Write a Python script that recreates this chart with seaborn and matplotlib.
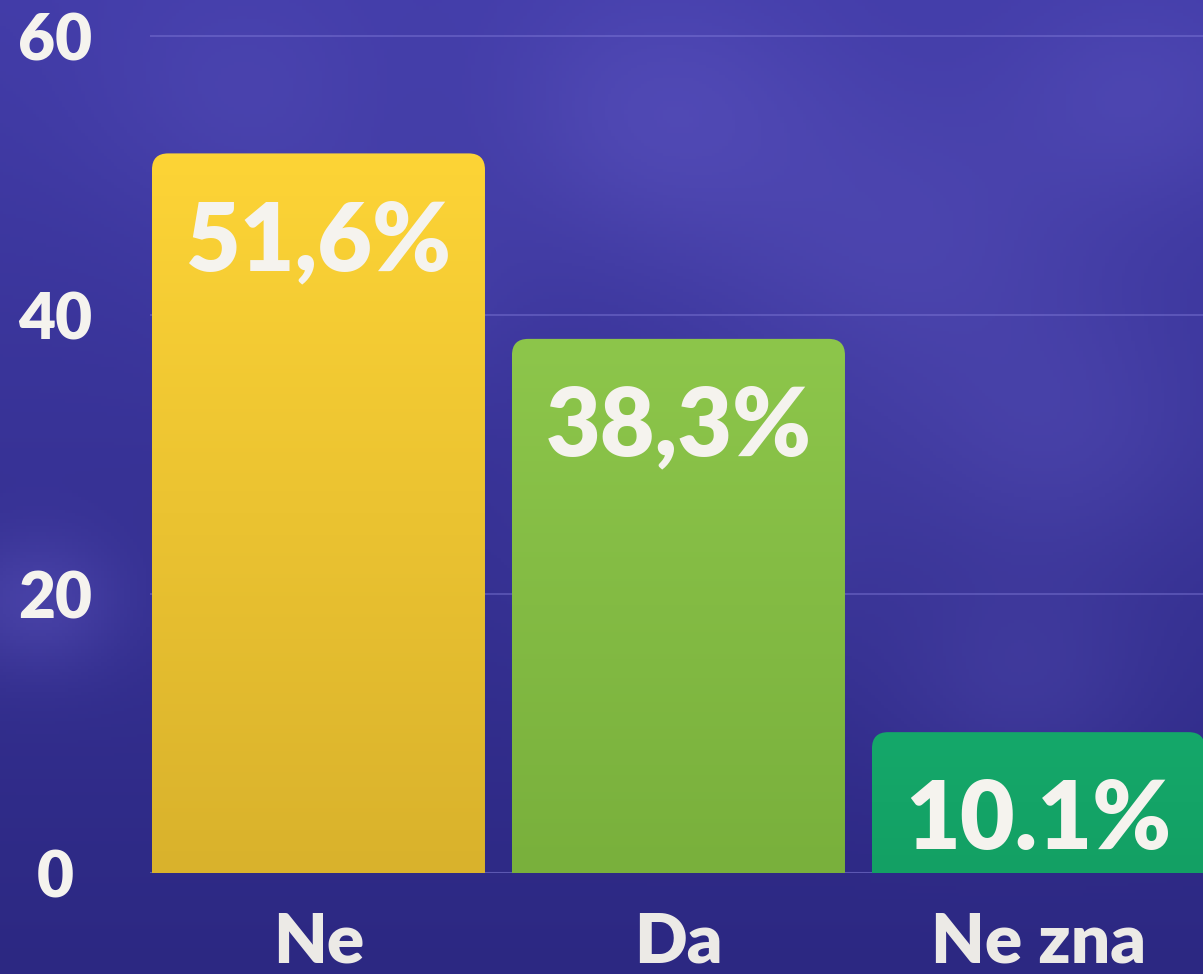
import numpy as np
import pandas as pd
import matplotlib
matplotlib.use("Agg")
import matplotlib.pyplot as plt
import seaborn as sns
from matplotlib.patches import FancyBboxPatch

categories = ["Ne", "Da", "Ne zna"]
values = [51.6, 38.3, 10.1]
value_labels = ["51,6%", "38,3%", "10.1%"]
bar_colors = ["#FDD436", "#8DC64B", "#15A86A"]
bar_bottom_colors = ["#D9B22C", "#79B03C", "#13A064"]
yticks = [0, 20, 40, 60]

sns.set_theme(style="white")
plt.rcParams['font.family'] = ['Lato', 'DejaVu Sans']

W, H = 1203, 974
fig = plt.figure(figsize=(W / 100, H / 100), dpi=100)

# background
bg = fig.add_axes([0, 0, 1, 1], zorder=0)
yy, xx = np.mgrid[0:1:300j, 0:1:370j]
c_top = np.array([66, 60, 168]) / 255
c_bot = np.array([44, 40, 130]) / 255
t = yy[..., None]
base = c_top * (1 - t) + c_bot * t
blobs = [(0.55, 0.12, 0.10, 0.30), (0.75, 0.25, 0.12, 0.25), (0.30, 0.30, 0.08, 0.22),
         (0.88, 0.45, 0.10, 0.22), (0.03, 0.62, 0.05, 0.30), (0.60, 0.55, 0.10, 0.15),
         (0.95, 0.10, 0.08, 0.22), (0.20, 0.10, 0.09, 0.18), (0.85, 0.70, 0.08, 0.18)]
light = np.array([115, 105, 215]) / 255
for bx, by, r, a in blobs:
    g = np.exp(-(((xx - bx) ** 2) + ((yy - by) ** 2)) / (2 * r ** 2))[..., None]
    base = base * (1 - a * g) + light * a * g
bg.imshow(base, extent=[0, 1, 0, 1], aspect="auto", origin="upper")
bg.set_axis_off()

ax = fig.add_axes([150 / W, (H - 873) / H, 1 - 150 / W, 873 / H], zorder=1)
ax.patch.set_alpha(0)
df = pd.DataFrame({"cat": categories, "val": values})
sns.barplot(data=df, x="cat", y="val", hue="cat", palette=bar_colors, width=0.925,
            legend=False, ax=ax, saturation=1)

ax.set_xlim(-0.468, 2.457)
ax.set_ylim(0, 62.6)

# grid lines
for yv in yticks[1:]:
    ax.axhline(yv, color="#8A84E0", lw=1.2, alpha=0.45, zorder=0.5)
ax.axhline(0, color="#7C78D0", lw=1.5, alpha=0.6, zorder=0.5)

# rounded-top bars with vertical gradient
aspect = (62.6 / 873) / (2.925 / 1053)
for i, p in enumerate(list(ax.patches)):
    x0, y0, w, h = p.get_x(), p.get_y(), p.get_width(), p.get_height()
    p.set_visible(False)
    fb = FancyBboxPatch((x0, y0 - 3), w, h + 3, boxstyle="round,pad=0,rounding_size=0.045",
                        mutation_aspect=aspect, facecolor="none", edgecolor="none", zorder=2)
    ax.add_patch(fb)
    top = np.array(matplotlib.colors.to_rgb(bar_colors[i]))
    bot = np.array(matplotlib.colors.to_rgb(bar_bottom_colors[i]))
    s = np.linspace(0, 1, 200)[:, None]
    grad = (top * (1 - s) + bot * s)[:, None, :]
    im = ax.imshow(grad, extent=[x0, x0 + w, y0, y0 + h], aspect="auto", origin="upper", zorder=2)
    im.set_clip_path(fb)
    ax.text(x0 + w / 2, y0 + h - 3.3, value_labels[i], ha="center", va="top",
            color="#F5F3EE", fontsize=68, fontweight="heavy", zorder=3)

ax.set_yticks(yticks)
ax.set_yticklabels([str(v) for v in yticks], fontsize=46, fontweight="heavy", color="#F5F3EE")
ax.tick_params(axis="y", length=0, pad=68)
for lab in ax.get_yticklabels():
    lab.set_horizontalalignment("center")
ax.set_xticks(range(3))
ax.set_xticklabels(categories, fontsize=50, fontweight="heavy", color="#ECEAE6")
ax.tick_params(axis="x", length=0, pad=28)
ax.set_xlabel("")
ax.set_ylabel("")
for s in ax.spines.values():
    s.set_visible(False)

fig.savefig("out.png", dpi=100)
